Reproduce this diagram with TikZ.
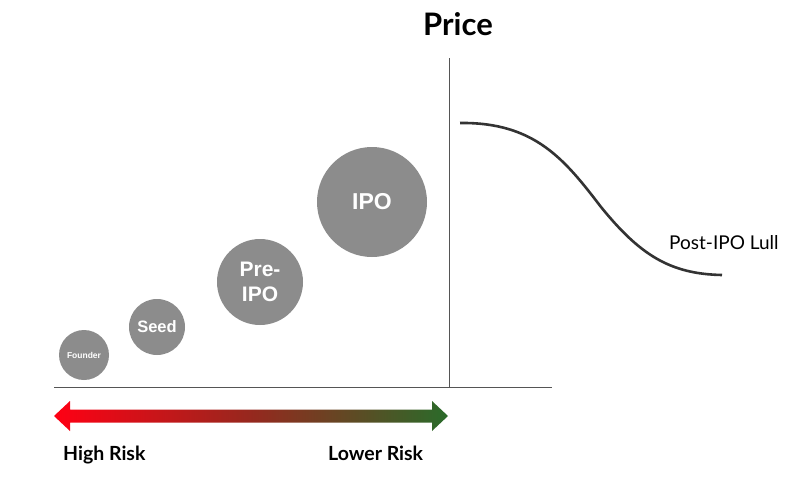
\documentclass[tikz,border=0pt]{standalone}
\usepackage{fontspec}
\setmainfont{Lato}
\newfontfamily\circfont{Liberation Sans}
\begin{document}
\begin{tikzpicture}[x=1pt,y=-1pt,
  stage/.style={circle,fill=stagegray,inner sep=0pt,text=white,font=\circfont\bfseries,align=center},
  axisline/.style={draw=axisgray,line width=1pt},
  risklabel/.style={font=\bfseries\fontsize{19.5}{22}\selectfont,anchor=base west,inner sep=0pt}]
\definecolor{stagegray}{HTML}{8C8C8C}
\definecolor{axisgray}{HTML}{555555}
\definecolor{riskred}{HTML}{FF0014}
\definecolor{riskgreen}{HTML}{2A6B2A}
\definecolor{curvegray}{HTML}{333333}
\useasboundingbox (0,0) rectangle (800,482);
% circles
\node[stage,minimum size=50pt,font=\circfont\bfseries\fontsize{8.5}{10}\selectfont] (founder) at (84,355) {Founder};
\node[stage,minimum size=56pt,font=\circfont\bfseries\fontsize{16.5}{18}\selectfont] (seed) at (157,327) {Seed};
\node[stage,minimum size=86pt,font=\circfont\bfseries\fontsize{21}{25}\selectfont] (preipo) at (260,282) {Pre-\\IPO};
\node[stage,minimum size=110pt,font=\circfont\bfseries\fontsize{23}{26}\selectfont] (ipo) at (372,202) {IPO};
% axes
\coordinate (xl) at (54,387);
\coordinate (xr) at (552,387);
\coordinate (vt) at (449,58);
\coordinate (vb) at (449,387);
\draw[axisline] (xl) -- (xr);
\draw[axisline] (vt) -- (vb);
\node[font=\bfseries\fontsize{31}{34}\selectfont] (price) at (458,24) {Price};
% curve
\coordinate (c0) at (460,123);
\coordinate (c1) at (601,207);
\coordinate (c2) at (722,275);
\draw[curvegray,line width=2.6pt] (c0) .. controls (535,122) and (565,160) .. (c1) .. controls (640,255) and (670,274) .. (c2);
\node[font=\fontsize{19}{22}\selectfont,anchor=base west,inner sep=0pt] (lull) at (669,249) {Post-IPO Lull};
% risk arrow
\shade[left color=riskred,right color=riskgreen,middle color={rgb,255:red,150;green,40;blue,30}]
  (54,416) -- (70,401) -- (70,409.5) -- (432,409.5) -- (432,401) -- (448,416) -- (432,431) -- (432,422.5) -- (70,422.5) -- (70,431) -- cycle;
\node[risklabel] (high) at (63,460) {High Risk};
\node[risklabel] (low) at (328,460) {Lower Risk};
\end{tikzpicture}
\end{document}
